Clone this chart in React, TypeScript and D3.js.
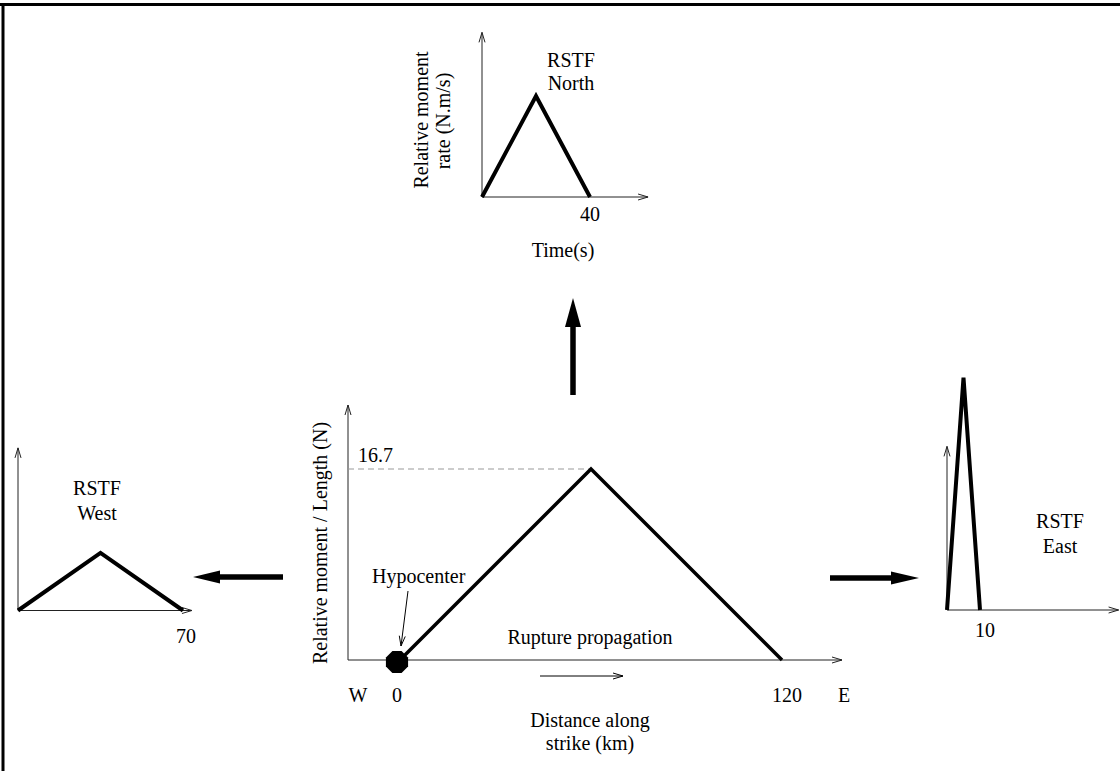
import { useEffect, useRef } from 'react';
import * as d3 from 'd3';

// Main moment distribution along strike (km -> N)
const mainDistance = [0, 60, 120];
const mainMoment = [0, 16.7, 0];

// Relative source time functions (time in s, relative moment rate)
const northTime = [0, 20, 40];
const northRate = [0, 1, 0];
const westTime = [0, 35, 70];
const westRate = [0, 0.57, 0];
const eastTime = [0, 5, 10];
const eastRate = [0, 2.3, 0];

const FONT = '"Liberation Serif", "DejaVu Serif", serif';
const AXIS = '#222';

type Pt = [number, number];

export default function App() {
  const svgRef = useRef<SVGSVGElement>(null);
  const width = 1120;
  const height = 771;

  useEffect(() => {
    if (!svgRef.current) return;
    const svg = d3.select(svgRef.current);
    svg.selectAll('*').remove();

    svg.append('rect').attr('width', width).attr('height', height).attr('fill', '#fff');

    // frame (top + left only)
    svg.append('line').attr('x1', 0).attr('y1', 4.5).attr('x2', width).attr('y2', 4.5)
      .attr('stroke', '#000').attr('stroke-width', 3);
    svg.append('line').attr('x1', 3).attr('y1', 3).attr('x2', 3).attr('y2', height)
      .attr('stroke', '#000').attr('stroke-width', 3);

    const text = (x: number, y: number, s: string, anchor = 'middle') =>
      svg.append('text')
        .attr('x', x).attr('y', y)
        .attr('text-anchor', anchor)
        .attr('font-family', FONT)
        .attr('font-size', 20)
        .attr('fill', '#000')
        .text(s);

    const vtext = (x: number, y: number, s: string) =>
      svg.append('text')
        .attr('transform', `translate(${x},${y}) rotate(-90)`)
        .attr('text-anchor', 'middle')
        .attr('font-family', FONT)
        .attr('font-size', 20)
        .attr('fill', '#000')
        .text(s);

    // thin line with open arrowhead at end
    const thinArrow = (x1: number, y1: number, x2: number, y2: number, color = AXIS) => {
      svg.append('line').attr('x1', x1).attr('y1', y1).attr('x2', x2).attr('y2', y2)
        .attr('stroke', color).attr('stroke-width', 1);
      const a = Math.atan2(y2 - y1, x2 - x1);
      const len = 10, w = 3;
      const bx = x2 - Math.cos(a) * len, by = y2 - Math.sin(a) * len;
      const nx = -Math.sin(a) * w, ny = Math.cos(a) * w;
      svg.append('path')
        .attr('d', `M${bx + nx},${by + ny}L${x2},${y2}L${bx - nx},${by - ny}`)
        .attr('fill', 'none').attr('stroke', color).attr('stroke-width', 1);
    };

    // thick filled arrow
    const bigArrow = (x1: number, y1: number, x2: number, y2: number, headLen: number, headW: number) => {
      const a = Math.atan2(y2 - y1, x2 - x1);
      const bx = x2 - Math.cos(a) * headLen, by = y2 - Math.sin(a) * headLen;
      svg.append('line').attr('x1', x1).attr('y1', y1).attr('x2', bx).attr('y2', by)
        .attr('stroke', '#000').attr('stroke-width', 5.5);
      const nx = -Math.sin(a) * headW / 2, ny = Math.cos(a) * headW / 2;
      svg.append('path')
        .attr('d', `M${bx + nx},${by + ny}L${x2},${y2}L${bx - nx},${by - ny}Z`)
        .attr('fill', '#000');
    };

    const line = d3.line<Pt>().x(d => d[0]).y(d => d[1]);

    // ---- RSTF panel helper
    const panel = (
      times: number[], rates: number[],
      x0: number, x1: number, tMax: number,
      y0: number, pxPerUnit: number,
      xAxisEnd: number, yAxisTop: number,
    ) => {
      const x = d3.scaleLinear().domain([0, tMax]).range([x0, x1]);
      const y = d3.scaleLinear().domain([0, 1]).range([y0, y0 - pxPerUnit]);
      thinArrow(x(0), y(0), x(xAxisEnd), y(0));
      thinArrow(x(0), y(0), x(0), y(yAxisTop));
      const pts: Pt[] = times.map((t, i) => [x(t), y(rates[i])]);
      svg.append('path').attr('d', line(pts))
        .attr('fill', 'none').attr('stroke', '#000').attr('stroke-width', 4)
        .attr('stroke-linejoin', 'miter');
      return { x, y };
    };

    // North
    const north = panel(northTime, northRate, 482, 590, 40, 197, 101, 61.5, 1.63);
    text(571, 67, 'RSTF');
    text(571, 90, 'North');
    text(north.x(40), 221, '40');
    text(563, 257, 'Time(s)');
    vtext(428, 120, 'Relative moment');
    vtext(450, 121, 'rate (N.m/s)');

    // West
    const west = panel(westTime, westRate, 18, 183, 70, 610.5, 101, 73.8, 1.61);
    text(97, 495, 'RSTF');
    text(97, 520, 'West');
    text(west.x(70) + 3, 643, '70');

    // East
    const east = panel(eastTime, eastRate, 947, 980, 10, 610, 101, 52, 1.62);
    text(1060, 528, 'RSTF');
    text(1060, 553, 'East');
    text(east.x(10) + 5, 637, '10');

    // ---- Main chart
    const mx = d3.scaleLinear().domain([0, 120]).range([400, 782]);
    const my = d3.scaleLinear().domain([0, 16.7]).range([660, 469]);
    thinArrow(348, my(0), 842, my(0));
    thinArrow(348, my(0), 348, 405);

    const peak = d3.max(mainMoment) as number;
    const peakIdx = mainMoment.indexOf(peak);
    svg.append('line')
      .attr('x1', 348).attr('y1', my(peak))
      .attr('x2', mx(mainDistance[peakIdx])).attr('y2', my(peak))
      .attr('stroke', '#999').attr('stroke-width', 1.2)
      .attr('stroke-dasharray', '6,4');

    const mainPts: Pt[] = mainDistance.map((d, i) => [mx(d), my(mainMoment[i])]);
    svg.append('path').attr('d', line(mainPts))
      .attr('fill', 'none').attr('stroke', '#000').attr('stroke-width', 3.5);

    // hypocenter octagon
    const hx = mx(0) - 3, hy = my(0) + 2, hr = 12;
    const oct = d3.range(8).map(k => {
      const a = Math.PI / 8 + (k * Math.PI) / 4;
      return [hx + hr * Math.cos(a), hy + hr * Math.sin(a)].join(',');
    });
    svg.append('polygon').attr('points', oct.join(' ')).attr('fill', '#000');
    thinArrow(408, 591, 401, 646, '#000');

    text(358, 462, peak.toFixed(1), 'start');
    text(372, 583, 'Hypocenter', 'start');
    text(590, 644, 'Rupture propagation');
    thinArrow(540, 676, 623, 676, '#000');
    text(358, 702, 'W');
    text(mx(0) - 3, 702, '0');
    text(mx(120) + 5, 702, '120');
    text(844, 702, 'E');
    text(590, 727, 'Distance along');
    text(590, 750, 'strike (km)');
    vtext(327, 543, 'Relative moment / Length (N)');

    // propagation arrows
    bigArrow(573, 395, 573, 298, 29, 16);
    bigArrow(283, 577, 193, 577, 27, 13);
    bigArrow(830, 578, 919, 578, 28, 13);
  }, []);

  return (
    <svg
      ref={svgRef}
      width={width}
      height={height}
      style={{ position: 'absolute', left: 0, top: 0, display: 'block' }}
    />
  );
}
